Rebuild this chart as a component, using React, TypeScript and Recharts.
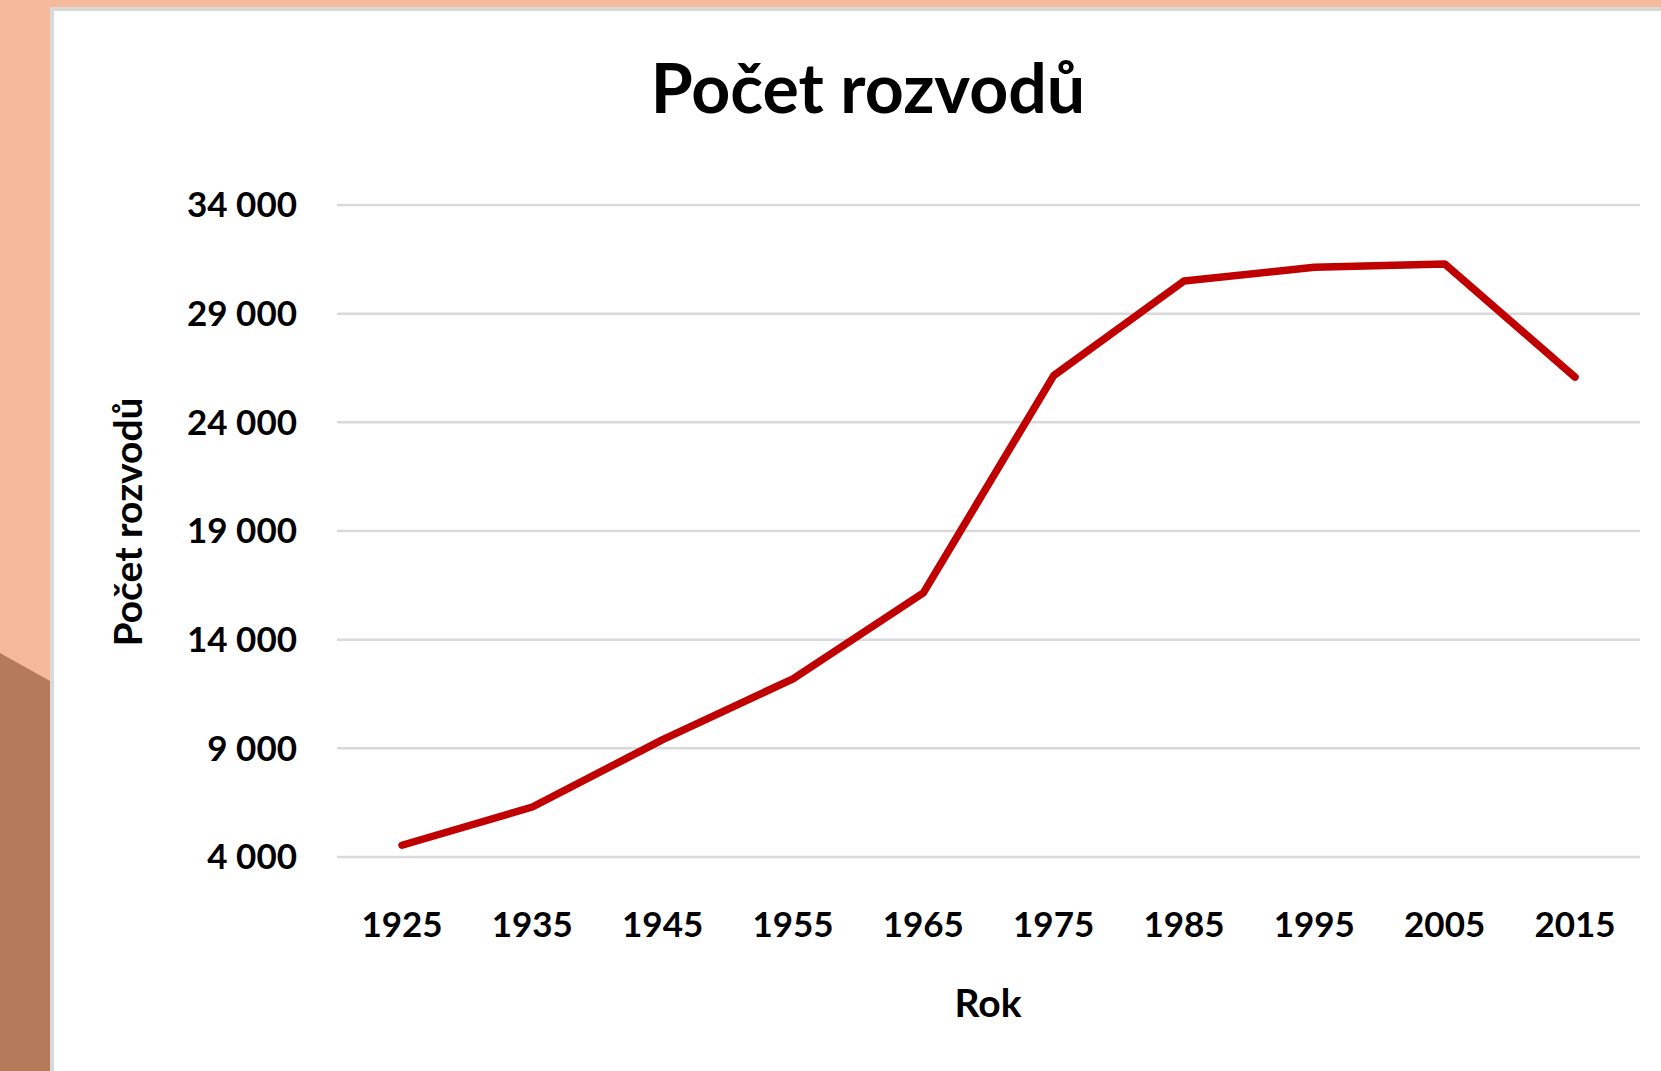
import React from 'react';
import { CartesianGrid, Line, LineChart, XAxis, YAxis } from 'recharts';

// Počet rozvodů v jednotlivých letech
const years = ['1925', '1935', '1945', '1955', '1965', '1975', '1985', '1995', '2005', '2015'];
const divorces = [4540, 6300, 9400, 12200, 16150, 26150, 30500, 31135, 31288, 26083];
const yTicks = [4000, 9000, 14000, 19000, 24000, 29000, 34000];

const TITLE = 'Počet rozvodů';
const X_TITLE = 'Rok';
const Y_TITLE = 'Počet rozvodů';

const W = 1661;
const H = 1071;
const FONT = 'Lato, "Open Sans", sans-serif';

const data = years.map((year, i) => ({ year, value: divorces[i] }));

const fmt = (v: number) => String(v).replace(/\B(?=(\d{3})+(?!\d))/g, ' ');

export default function App() {
  return (
    <div style={{ position: 'absolute', left: 0, top: 0, width: W, height: H, overflow: 'hidden', background: '#F6B99B', fontFamily: FONT }}>
      {/* decorative backdrop */}
      <div
        style={{
          position: 'absolute', left: 0, top: 0, width: 200, height: H, background: '#B47A5A',
          clipPath: 'polygon(0px 653px, 50px 681px, 200px 770px, 200px 1071px, 0px 1071px)',
        }}
      />
      <div
        style={{
          position: 'absolute', left: 50, top: 7, width: W, height: H,
          background: '#fff', borderLeft: '4px solid #D9D9D9', borderTop: '4px solid #D9D9D9',
        }}
      />

      <div style={{ position: 'absolute', left: 0, top: 0 }}>
        <LineChart width={W} height={H} data={data} margin={{ top: 205, right: 21, bottom: 114, left: 217 }}>
          <CartesianGrid vertical={false} stroke="#D9D9D9" strokeWidth={2.5} />
          <XAxis
            dataKey="year"
            axisLine={false}
            tickLine={false}
            tickSize={0}
            tickMargin={55}
            height={100}
            interval={0}
            padding={{ left: 65, right: 65 }}
            tick={{ fontSize: 35, fontWeight: 700, fill: '#000', fontFamily: FONT }}
          />
          <YAxis
            domain={[4000, 34000]}
            ticks={yTicks}
            tickFormatter={fmt}
            axisLine={false}
            tickLine={false}
            tickSize={0}
            tickMargin={40}
            width={120}
            tick={{ fontSize: 35, fontWeight: 700, fill: '#000', fontFamily: FONT }}
          />
          <Line
            type="linear"
            dataKey="value"
            stroke="#C00000"
            strokeWidth={7.5}
            strokeLinecap="round"
            strokeLinejoin="round"
            dot={false}
            activeDot={false}
            isAnimationActive={false}
          />
        </LineChart>
      </div>

      {/* titles */}
      <svg width={W} height={H} style={{ position: 'absolute', left: 0, top: 0, pointerEvents: 'none' }}>
        <text x={868} y={113} textAnchor="middle" fontSize={68} fontWeight={700} fill="#000" fontFamily={FONT}>
          {TITLE}
        </text>
        <text x={988} y={1017} textAnchor="middle" fontSize={39} fontWeight={700} fill="#000" fontFamily={FONT}>
          {X_TITLE}
        </text>
        <text
          x={0}
          y={0}
          transform="translate(142 522) rotate(-90)"
          textAnchor="middle"
          fontSize={39}
          fontWeight={700}
          fill="#000"
          fontFamily={FONT}
        >
          {Y_TITLE}
        </text>
      </svg>
    </div>
  );
}
